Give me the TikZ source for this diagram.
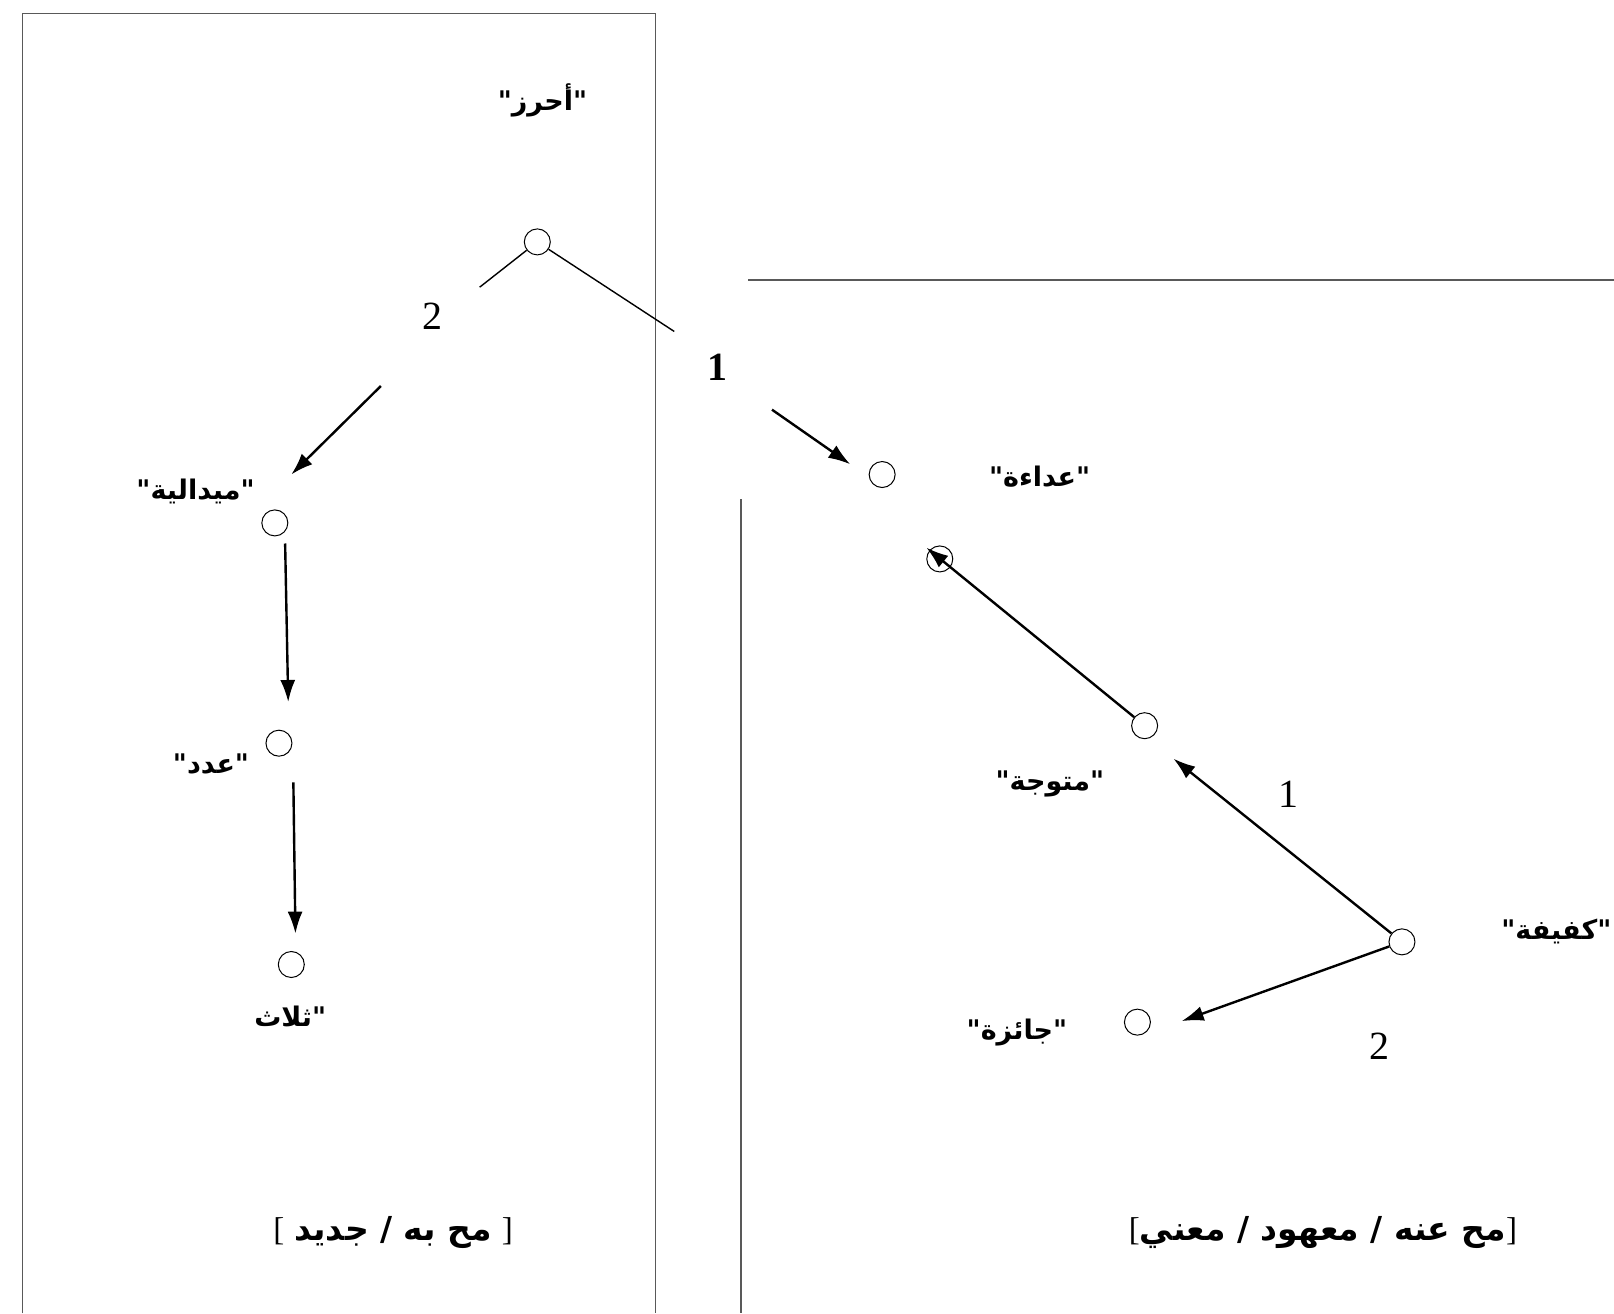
\documentclass[tikz,border=0pt]{standalone}
\usepackage{fontspec}
\setmainfont{Liberation Serif}
\newfontfamily\arabicfont[Script=Arabic]{DejaVu Sans}
\TeXXeTstate=1
\usetikzlibrary{arrows.meta}
\newcommand{\lbk}{{\rmfamily\mdseries[}}
\newcommand{\rbk}{{\rmfamily\mdseries]}}
\begin{document}
\begin{tikzpicture}[x=1.0293pt,y=-1.0293pt,
  nd/.style={circle,draw,line width=1pt,minimum size=26pt,inner sep=0pt},
  arw/.style={line width=2.4pt,-{Latex[length=22pt,width=15pt]}},
  seg/.style={line width=1.4pt},
  frm/.style={line width=1.3pt,draw=black!65},
  ar/.style={font=\arabicfont\bfseries\fontsize{27}{31}\selectfont,inner sep=0pt},
  num/.style={font=\fontsize{40}{46}\selectfont,inner sep=0pt},
  numb/.style={font=\bfseries\fontsize{40}{46}\selectfont,inner sep=0pt},
  brk/.style={font=\arabicfont\bfseries\fontsize{33}{38}\selectfont,inner sep=0pt}]
\useasboundingbox (0,0) rectangle (1568,1276);
% frames
\draw[frm] (22,1276) -- (22,13) -- (637,13) -- (637,1276);
\draw[frm] (1568,272) -- (727,272);
\draw[frm] (720,485) -- (720,1276);
% left tree
\node[nd] (A) at (522,235) {};
\node[ar] (tA) at (527,98) {"\beginR أحرز\endR"};
\coordinate (a1) at (466,279);
\draw[seg] (A) -- (a1);
\node[num] (n2) at (420,307) {2};
\coordinate (a2) at (370,375);
\coordinate (a3) at (283,461);
\draw[arw] (a2) -- (a3);
\node[nd] (B) at (267,508) {};
\node[ar] (tB) at (190,477) {"\beginR ميدالية\endR"};
\coordinate (b1) at (277,528);
\coordinate (b2) at (280,682);
\draw[arw] (b1) -- (b2);
\node[nd] (C) at (271,722) {};
\node[ar] (tC) at (205,742) {"\beginR عدد\endR"};
\coordinate (c1) at (285,760);
\coordinate (c2) at (287,907);
\draw[arw] (c1) -- (c2);
\node[nd] (D) at (283,937) {};
\node[ar] (tD) at (282,987) {\beginR ثلاث\endR"};
\node[brk] (kL) at (382,1197) {\lbk\hspace{10pt}\beginR مح به / جديد\endR\hspace{10pt}\rbk};
% right tree
\coordinate (r1) at (655,322);
\draw[seg] (A) -- (r1);
\node[numb] (n1) at (697,357) {1};
\coordinate (e1) at (750,398);
\coordinate (e2) at (826,451);
\draw[arw] (e1) -- (e2);
\node[nd] (E) at (857,461) {};
\node[ar] (tE) at (1010,463) {"\beginR عداءة\endR"};
\node[nd] (F) at (913,543) {};
\node[nd] (G) at (1112,705) {};
\node[ar] (tG) at (1020,762) {"\beginR متوجة\endR"};
\coordinate (fT) at (900,532);
\draw[arw] (G) -- (fT);
\node[num] (n1b) at (1252,772) {1};
\node[nd] (H) at (1362,915) {};
\node[ar] (tH) at (1512,905) {"\beginR كفيفة\endR"};
\coordinate (gT) at (1140,737);
\draw[arw] (H) -- (gT);
\node[nd] (I) at (1105,993) {};
\node[ar] (tI) at (988,1003) {"\beginR جائزة\endR"};
\coordinate (iT) at (1148,992);
\draw[arw] (H) -- (iT);
\node[num] (n2b) at (1340,1016) {2};
\node[brk,anchor=east] (kR) at (1474,1197) {\lbk\beginR مح عنه / معهود / معني\endR\rbk};
\end{tikzpicture}
\end{document}
